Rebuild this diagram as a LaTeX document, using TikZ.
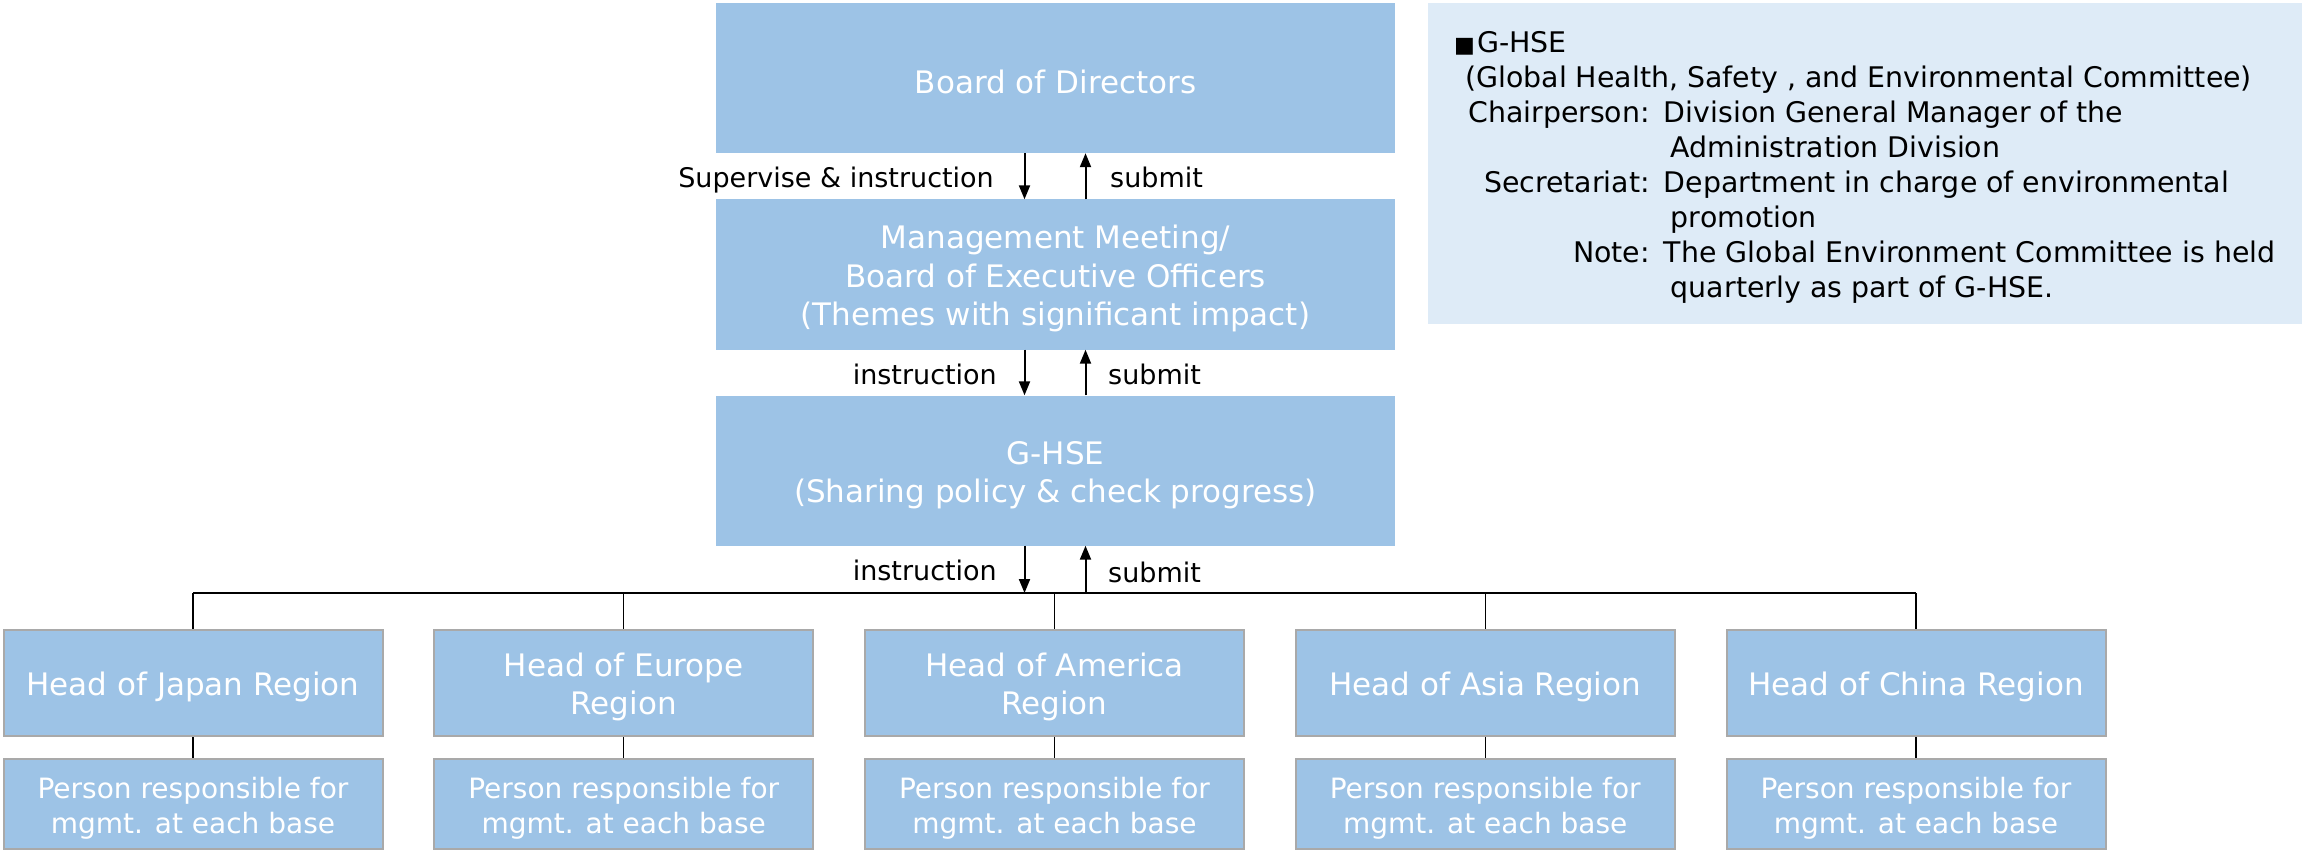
\documentclass[tikz,border=0pt]{standalone}
\usepackage{fontspec}
\setmainfont{DejaVu Sans}
\usetikzlibrary{arrows.meta}
\definecolor{boxblue}{HTML}{9DC3E6}
\definecolor{noteblue}{HTML}{DEEBF7}
\definecolor{edgegray}{HTML}{A9A9A9}
% taller first line, so that box texts sit a little low in their boxes
\newcommand{\boxstrut}{\rule{0pt}{32pt}}
\newcommand{\basestrut}{\rule{0pt}{29pt}}
\begin{document}
\begin{tikzpicture}[x=1pt,y=-1pt,
  mainbox/.style={fill=boxblue, text=white, minimum width=679pt, minimum height=150pt,
    align=center, inner sep=0pt, font=\fontsize{31}{38.5}\selectfont},
  headbox/.style={fill=boxblue, draw=edgegray, line width=2pt, text=white,
    minimum width=379pt, minimum height=106pt, align=center, inner sep=0pt,
    font=\fontsize{31}{38}\selectfont},
  basebox/.style={fill=boxblue, draw=edgegray, line width=2pt, text=white,
    minimum width=379pt, minimum height=90pt, align=center, inner sep=0pt,
    font=\fontsize{28}{35}\selectfont},
  lbl/.style={inner sep=0pt, font=\fontsize{27}{32}\selectfont},
  arr/.style={line width=2pt, -{Triangle[length=14pt,width=11pt]}},
  link/.style={line width=1.3pt},
  busline/.style={line width=2pt}]
\useasboundingbox (0,0) rectangle (2302,853);

% management chain
\node[mainbox] (board) at (1055.5,78) {\boxstrut Board of Directors};
\node[mainbox] (mgmt) at (1055.5,274.5) {\boxstrut Management Meeting/\\Board of Executive Officers\\(Themes with significant impact)};
\node[mainbox] (ghse) at (1055.5,470.5) {\boxstrut G-HSE\\(Sharing policy \& check progress)};

\draw[arr] ([xshift=-31pt]board.south) -- ([xshift=-31pt]mgmt.north);
\draw[arr] ([xshift=30pt]mgmt.north) -- ([xshift=30pt]board.south);
\draw[arr] ([xshift=-31pt]mgmt.south) -- ([xshift=-31pt]ghse.north);
\draw[arr] ([xshift=30pt]ghse.north) -- ([xshift=30pt]mgmt.south);

\node[lbl, anchor=base east] (l1a) at (994,188) {Supervise \& instruction};
\node[lbl, anchor=base west] (l1b) at (1110,188) {submit};
\node[lbl, anchor=base east] (l2a) at (997,384) {instruction};
\node[lbl, anchor=base west] (l2b) at (1108,384) {submit};
\node[lbl, anchor=base east] (l3a) at (997,580) {instruction};
\node[lbl, anchor=base west] (l3b) at (1108,582) {submit};

% regional heads and base managers
\foreach \i/\name/\txt in {0/jp/{Head of Japan Region}, 1/eu/{Head of Europe\\Region},
    2/am/{Head of America\\Region}, 3/as/{Head of Asia Region}, 4/cn/{Head of China Region}} {
  \node[headbox] (h\name) at (193+430.75*\i,683) {\boxstrut\txt};
  \node[basebox] (p\name) at (193+430.75*\i,804) {\basestrut Person responsible for\\mgmt. at each base};
  \draw[link] (h\name.south) -- (p\name.north);
}

\coordinate (bus) at (1055.5,593);
\draw[busline] (hjp.north |- bus) -- (hcn.north |- bus);
\foreach \name in {jp,eu,am,as,cn}
  \draw[link] (h\name.north |- bus) -- (h\name.north);

\draw[arr] ([xshift=-31pt]ghse.south) -- ([xshift=-31pt]ghse.south |- bus);
\draw[arr] ([xshift=30pt]ghse.south |- bus) -- ([xshift=30pt]ghse.south);

% committee note
\node[fill=noteblue, minimum width=874pt, minimum height=321pt, inner sep=0pt] (note) at (1865,163.5) {};
\node[anchor=north west, inner sep=0pt, font=\fontsize{28.4}{35}\selectfont] (notetxt) at (1454,27.5) {%
  \begin{tabular}{@{\hspace{14pt}}r@{\hspace{14pt}}l@{}}
  \multicolumn{2}{@{}l@{}}{{\fontsize{22}{35}\selectfont ■}\hspace{2pt}G-HSE}\\
  \multicolumn{2}{@{\hspace{11pt}}l@{}}{(Global Health, Safety , and Environmental Committee)}\\
  Chairperson: & Division General Manager of the\\
   & \hspace{7pt}Administration Division\\
  Secretariat: & Department in charge of environmental\\
   & \hspace{7pt}promotion\\
  Note: & The Global Environment Committee is held\\
   & \hspace{7pt}quarterly as part of G-HSE.
  \end{tabular}};
\end{tikzpicture}
\end{document}
